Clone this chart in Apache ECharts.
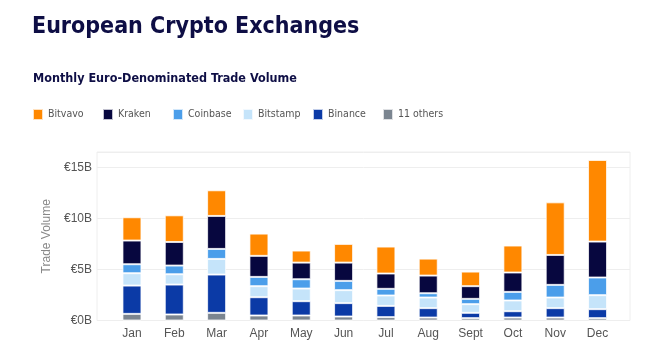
<!DOCTYPE html>
<html>
<head>
<meta charset="utf-8">
<script src="https://cdn.jsdelivr.net/npm/echarts@6/dist/echarts.min.js"></script>
<style>
html,body{margin:0;padding:0;background:#fff;}
#chart{width:662px;height:355px;}
</style>
</head>
<body>
<div id="chart"></div>
<script>
const months = ["Jan","Feb","Mar","Apr","May","Jun","Jul","Aug","Sept","Oct","Nov","Dec"];
// values in € billions, per exchange, per month
const others   = [0.65, 0.59, 0.75, 0.49, 0.49, 0.39, 0.33, 0.29, 0.23, 0.29, 0.29, 0.23];
const binance  = [2.77, 2.93, 3.75, 1.79, 1.40, 1.31, 1.10, 0.92, 0.52, 0.62, 0.92, 0.88];
const bitstamp = [1.21, 1.01, 1.53, 1.08, 1.24, 1.27, 1.02, 1.04, 0.85, 1.05, 1.04, 1.37];
const coinbase = [0.88, 0.85, 0.98, 0.91, 0.91, 0.91, 0.65, 0.42, 0.52, 0.84, 1.24, 1.73];
const kraken   = [2.32, 2.31, 3.23, 2.06, 1.63, 1.79, 1.50, 1.73, 1.24, 1.90, 2.93, 3.52];
const bitvavo  = [2.28, 2.61, 2.51, 2.18, 1.18, 1.83, 2.64, 1.66, 1.43, 2.64, 5.15, 7.99];
const yTicks = [0, 5, 10, 15];
const legendOrder = ["Bitvavo","Kraken","Coinbase","Bitstamp","Binance","11 others"];

const colors = {
  "Bitvavo": "#FF8800",
  "Kraken": "#07073F",
  "Coinbase": "#4B9EEA",
  "Bitstamp": "#C5E4FA",
  "Binance": "#0B3AA6",
  "11 others": "#7B8590"
};
const stackOrder = [["11 others", others],["Binance", binance],["Bitstamp", bitstamp],["Coinbase", coinbase],["Kraken", kraken],["Bitvavo", bitvavo]];

const narrow = '"DejaVu Sans Condensed", "Liberation Sans"';
const chart = echarts.init(document.getElementById('chart'), null, {renderer: 'canvas'});

const legends = legendOrder.map((name, i) => ({
  data: [name],
  left: 32 + 70 * i,
  top: 108,
  itemWidth: 10,
  itemHeight: 11,
  icon: 'rect',
  padding: 0,
  selectedMode: false,
  textStyle: {fontFamily: narrow, fontSize: 10.5, color: '#555'}
}));

chart.setOption({
  animation: false,
  backgroundColor: '#fff',
  title: [
    {text: 'European Crypto Exchanges', left: 27, top: 11,
     textStyle: {fontFamily: narrow, fontWeight: 'bold', fontSize: 23, color: '#0E0E45'}},
    {text: 'Monthly Euro-Denominated Trade Volume', left: 28, top: 67,
     textStyle: {fontFamily: narrow, fontWeight: 'bold', fontSize: 12.5, color: '#0E0E45'}}
  ],
  legend: legends,
  grid: [
    {left: 110.8, right: 43.3, top: 152, bottom: 34.5, show: false},
    {left: 97, right: 32, top: 152, bottom: 34.5, show: true, borderColor: '#eeeeee', borderWidth: 1, z: 0}
  ],
  xAxis: [
    {type: 'category', gridIndex: 0, data: months,
     axisLine: {show: false}, axisTick: {show: false},
     axisLabel: {margin: 7, color: '#555', fontSize: 12, fontFamily: '"Liberation Sans", Arial'}},
    {type: 'value', gridIndex: 1, show: false, min: 0, max: 1}
  ],
  yAxis: [
    {type: 'value', gridIndex: 0, min: 0, max: 16.5, show: false, splitLine: {show: false}},
    {type: 'value', gridIndex: 1, min: 0, max: 16.5, interval: 5,
     name: 'Trade Volume', nameLocation: 'middle', nameGap: 37,
     nameTextStyle: {color: '#888', fontSize: 12, fontFamily: '"Liberation Sans", Arial'},
     axisLine: {show: false}, axisTick: {show: false},
     axisLabel: {margin: 5, color: '#555', fontSize: 12, fontFamily: '"Liberation Sans", Arial',
       formatter: v => yTicks.indexOf(v) >= 0 ? '€' + v + 'B' : ''},
     splitLine: {lineStyle: {color: '#eeeeee', width: 1}}}
  ],
  series: stackOrder.map(([name, vals]) => ({
    name: name,
    type: 'bar',
    stack: 'total',
    xAxisIndex: 0,
    yAxisIndex: 0,
    barWidth: 19,
    data: vals,
    itemStyle: {color: colors[name], borderColor: 'rgba(255,255,255,0.75)', borderWidth: 1}
  }))
});
</script>
</body>
</html>
